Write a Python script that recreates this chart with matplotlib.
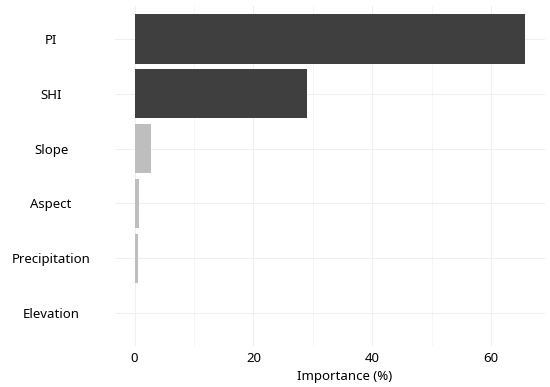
import matplotlib.pyplot as plt
from matplotlib.ticker import MultipleLocator

# variable importance values
variables = ['PI', 'SHI', 'Slope', 'Aspect', 'Precipitation', 'Elevation']
importance = [65.8, 29.0, 2.8, 0.7, 0.6, 0.1]
bar_colors = ['#3f3f3f', '#3f3f3f', '#bebebe', '#bebebe', '#bebebe', '#bebebe']

plt.rcParams['font.family'] = ['Noto Sans', 'DejaVu Sans']

fig = plt.figure(figsize=(5.5, 3.87), dpi=100)
ax = fig.add_axes([115 / 550, 1 - 346 / 387, 430 / 550, 340 / 387])

ypos = list(range(len(variables)))[::-1]
ax.barh(ypos, importance, height=0.9, color=bar_colors, zorder=2)

ax.set_yticks(ypos)
ax.set_yticklabels(variables, ha='center')
ax.set_xticks([0, 20, 40, 60])
ax.xaxis.set_minor_locator(MultipleLocator(10))
ax.set_ylim(-0.6, len(variables) - 0.4)
ax.set_xlim(-3.3, 69.1)

ax.grid(True, which='major', color='#efefef', linewidth=0.8, zorder=0)
ax.grid(True, which='minor', axis='x', color='#f5f5f5', linewidth=0.6, zorder=0)
for s in ax.spines.values():
    s.set_visible(False)
ax.tick_params(axis='both', which='both', length=0, labelsize=9.5, colors='black')
ax.tick_params(axis='y', pad=46)
ax.tick_params(axis='x', pad=4)
ax.set_xlabel('Importance (%)', fontsize=9.5, labelpad=2)
ax.xaxis.set_label_coords(0.535, -0.072)

fig.savefig('out.png', dpi=100)
